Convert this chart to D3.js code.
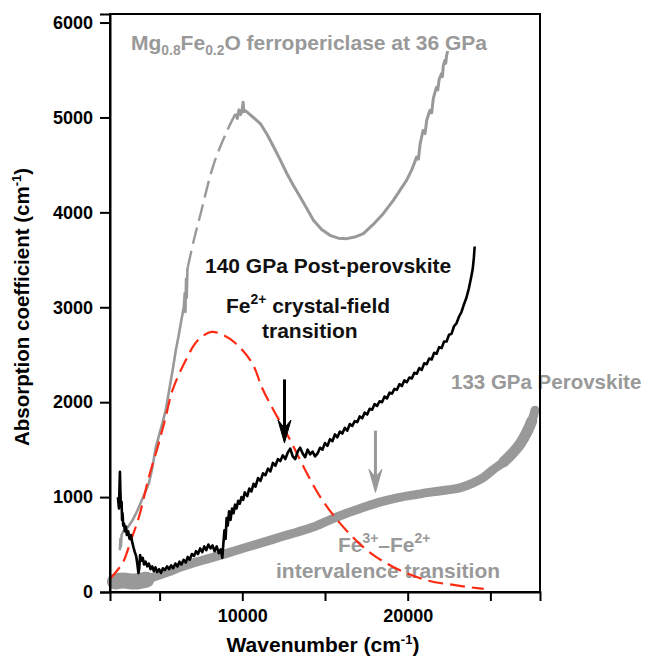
<!DOCTYPE html>
<html>
<head>
<meta charset="utf-8">
<script src="https://cdn.jsdelivr.net/npm/d3@7/dist/d3.min.js"></script>
<style>
  html, body { margin: 0; padding: 0; background: #fff; }
  svg { display: block; font-family: "Liberation Sans", Arial, Helvetica, sans-serif; font-weight: bold; }
</style>
</head>
<body>
<svg id="chart" width="649" height="662"></svg>
<script>
// ---------------- data ----------------
const xTicks = [5000, 10000, 15000, 20000, 25000];
const xTickLabels = ["", "10000", "", "20000", ""];
const yTicks = [0, 1000, 2000, 3000, 4000, 5000, 6000];
const yTickLabels = ["0", "1000", "2000", "3000", "4000", "5000", "6000"];

// Mg0.8Fe0.2O ferropericlase at 36 GPa (grey): measured low part, dashed gap, measured high part
const fpLow = [[2600,440],[2630,560],[2660,480],[2700,600],[2800,640],[2960,660],[3150,700],[3370,758],[3550,820],[3750,895],[4050,1020],[4350,1147],[4550,1300],[4770,1526],[4950,1640],[5170,1780],[5370,1916],[5600,2150],[5800,2350],[5980,2547],[6150,2700],[6300,2850],[6460,3000],[6520,3150],[6560,2950],[6600,3300],[6640,3100],[6680,3390],[6700,3420]];
const fpGap = [[6700,3420],[7060,3700],[7480,3986],[8280,4512],[9090,4863],[9590,5040]];
const fpHigh = [[9590,5040],[9700,4990],[9800,5080],[9900,5030],[10000,5090],[10050,5161],[10090,5060],[10200,5070],[10400,5040],[10600,5010],[10800,4980],[11100,4933],[11500,4820],[11900,4688],[12300,4550],[12700,4407],[13100,4280],[13500,4161],[13900,4040],[14300,3916],[14800,3820],[15300,3758],[15800,3728],[16320,3723],[16800,3740],[17320,3776],[17900,3870],[18520,3986],[19130,4126],[19530,4232],[19930,4337],[20250,4450],[20540,4582],[20650,4560],[20750,4720],[20930,4863],[21050,4830],[21150,4970],[21340,5074],[21450,5050],[21550,5200],[21740,5319],[21820,5290],[21900,5400],[22040,5460],[22100,5430],[22150,5540],[22240,5600],[22300,5570],[22350,5650],[22420,5700]];

// Fe2+ crystal-field transition band (red dashed)
const cfBand = [[2000,140],[2760,305],[3270,547],[3750,790],[4350,1210],[4950,1568],[5370,1845],[5780,2126],[6580,2442],[7300,2650],[8125,2740],[8800,2710],[9590,2621],[10600,2410],[11200,2150],[11890,1916],[12900,1600],[13500,1389],[14710,1003],[15900,726],[17520,442],[19100,267],[21100,126],[22950,70],[24600,32]];

// 140 GPa post-perovskite (black)
const postPv = [[2480,1000],[2540,880],[2600,1266],[2630,1050],[2660,900],[2700,950],[2730,760],[2760,830],[2800,700],[2850,720],[2900,640],[2960,690],[3020,600],[3100,640],[3180,560],[3260,600],[3350,520],[3420,470],[3500,420],[3580,380],[3650,300],[3720,200],[3770,250],[3820,390],[3900,330],[3980,360],[4060,290],[4150,320],[4250,270],[4350,300],[4450,240],[4550,270],[4650,220],[4750,260],[4850,210],[4970,240],[5080,200],[5200,250],[5320,230],[5450,270],[5580,240],[5700,280],[5820,250],[5950,300],[6080,270],[6200,320],[6320,290],[6450,340],[6580,310],[6700,370],[6820,340],[6950,400],[7080,380],[7200,430],[7320,400],[7450,460],[7580,420],[7700,480],[7820,440],[7950,500],[8080,460],[8200,490],[8320,430],[8450,480],[8580,410],[8700,450],[8790,360],[8850,500],[8920,650],[8990,560],[9050,780],[9120,700],[9200,850],[9290,760],[9380,880],[9470,830],[9560,920],[9650,880],[9750,960],[9850,930],[9950,1000],[10050,970],[10150,1050],[10300,1010],[10420,1090],[10550,1060],[10680,1140],[10800,1110],[10950,1200],[11100,1170],[11250,1250],[11400,1230],[11550,1300],[11700,1270],[11850,1360],[12000,1330],[12150,1400],[12300,1380],[12450,1440],[12600,1400],[12750,1470],[12900,1510],[13050,1430],[13200,1400],[13350,1480],[13500,1520],[13650,1460],[13800,1420],[13950,1500],[14100,1450],[14250,1480],[14400,1430],[14550,1460],[14700,1520],[14850,1500],[15000,1570],[15150,1540],[15300,1610],[15450,1590],[15600,1660],[15750,1630],[15900,1690],[16050,1670],[16200,1730],[16350,1700],[16500,1770],[16650,1750],[16800,1800],[16950,1790],[17100,1850],[17250,1830],[17400,1890],[17550,1870],[17700,1930],[17850,1920],[18000,1980],[18150,1960],[18300,2010],[18450,2000],[18600,2060],[18750,2040],[18900,2100],[19050,2090],[19200,2140],[19350,2130],[19500,2190],[19650,2170],[19800,2230],[19950,2210],[20100,2260],[20250,2250],[20400,2310],[20550,2300],[20700,2360],[20850,2340],[21000,2410],[21150,2400],[21300,2460],[21450,2450],[21600,2520],[21750,2510],[21900,2580],[22050,2570],[22200,2640],[22350,2640],[22500,2710],[22650,2720],[22800,2800],[22950,2830],[23100,2900],[23250,2950],[23400,3030],[23550,3100],[23700,3200],[23820,3300],[23930,3400],[24000,3520],[24050,3640]];

// 133 GPa perovskite (thick grey band)
const pv = [[2300,100],[2700,90],[3500,100],[4500,150],[5500,210],[6280,263],[7300,320],[8270,368],[9300,420],[10300,474],[11300,525],[12300,579],[13300,630],[14290,684],[15300,760],[16340,832],[17300,890],[18300,947],[19300,990],[20310,1021],[21300,1050],[22360,1074],[23200,1100],[23930,1147],[24600,1210],[25130,1284],[25800,1370],[26340,1463],[26800,1560],[27180,1674],[27500,1800],[27700,1916]];
const pvLowBlob = [[2300,110],[2800,120],[3500,110],[4200,130]];
const pvHighScatter = [[25800,1370],[26340,1463],[26800,1560],[27180,1674],[27500,1800]];

// arrows: [wavenumber, from value, to value]
const arrowCF = [12550, 2240, 1570];
const arrowIV = [18050, 1700, 1050];

// ---------------- drawing ----------------
const svg = d3.select("#chart");
const L = 110, R = 540, T = 14, B = 592;
const x = d3.scaleLinear().domain([2000, 28000]).range([L, R]);
const y = d3.scaleLinear().domain([0, 6090]).range([B, T]);

const grey = "#999999";
const line = d3.line().x(d => x(d[0])).y(d => y(d[1]));
const smooth = d3.line().x(d => x(d[0])).y(d => y(d[1])).curve(d3.curveCatmullRom);

// annotations (drawn under the curves)
function ann(xp, yp, parts, color, size) {
  const t = svg.append("text").attr("x", xp).attr("y", yp).attr("fill", color).style("font-size", size + "px");
  let shift = 0;
  parts.forEach(p => {
    const s = t.append("tspan").text(p[0]);
    const target = p[1] === "sub" ? 5 : p[1] === "sup" ? -9 : 0;
    if (target !== shift) s.attr("dy", target - shift);
    if (p[1]) s.style("font-size", (size * 0.66) + "px");
    shift = target;
  });
  return t;
}
ann(131, 50, [["Mg"], ["0.8", "sub"], ["Fe"], ["0.2", "sub"], ["O ferropericlase at 36 GPa"]], grey, 21);
ann(205, 273, [["140 GPa Post-perovskite"]], "#111", 21);
ann(226, 313, [["Fe"], ["2+", "sup"], [" crystal-field"]], "#111", 21);
ann(262, 338, [["transition"]], "#111", 21);
ann(451, 389, [["133 GPa Perovskite"]], grey, 20.5);
ann(338, 552, [["Fe"], ["3+", "sup"], ["\u2013Fe"], ["2+", "sup"]], grey, 21);
ann(276, 578, [["intervalence transition"]], grey, 21);

const plot = svg.append("g");

// perovskite band
plot.append("path").datum(pvLowBlob).attr("d", smooth)
  .attr("fill", "none").attr("stroke", grey).attr("stroke-width", 16).attr("stroke-linecap", "round");
plot.append("path").datum(pv).attr("d", smooth)
  .attr("fill", "none").attr("stroke", grey).attr("stroke-width", 9).attr("stroke-linecap", "round").attr("stroke-linejoin", "round");
plot.append("path").datum(pvHighScatter).attr("d", smooth)
  .attr("fill", "none").attr("stroke", grey).attr("stroke-width", 11).attr("stroke-linecap", "round");

// ferropericlase
plot.append("path").datum(fpLow).attr("d", line)
  .attr("fill", "none").attr("stroke", grey).attr("stroke-width", 2.6).attr("stroke-linejoin", "round");
plot.append("path").datum(fpGap).attr("d", smooth)
  .attr("fill", "none").attr("stroke", grey).attr("stroke-width", 2.4).attr("stroke-dasharray", "17,7");
plot.append("path").datum(fpHigh).attr("d", line)
  .attr("fill", "none").attr("stroke", grey).attr("stroke-width", 3).attr("stroke-linejoin", "round");

// crystal-field band
plot.append("path").datum(cfBand).attr("d", smooth)
  .attr("fill", "none").attr("stroke", "#ff2a12").attr("stroke-width", 2.2).attr("stroke-dasharray", "15,7");

// post-perovskite
plot.append("path").datum(postPv).attr("d", line)
  .attr("fill", "none").attr("stroke", "#000").attr("stroke-width", 2.6).attr("stroke-linejoin", "round");

// arrows
function arrow(a, color) {
  const ax = x(a[0]), y0 = y(a[1]), y1 = y(a[2]);
  plot.append("line").attr("x1", ax).attr("x2", ax).attr("y1", y0).attr("y2", y1 - 12)
    .attr("stroke", color).attr("stroke-width", 3);
  plot.append("path")
    .attr("d", `M${ax},${y1} L${ax - 6.5},${y1 - 23} L${ax},${y1 - 15} L${ax + 6.5},${y1 - 23} Z`)
    .attr("fill", color).attr("stroke", color).attr("stroke-width", 1).attr("stroke-linejoin", "round");
}
arrow(arrowCF, "#000");
arrow(arrowIV, grey);

// frame
svg.append("rect").attr("x", L).attr("y", T).attr("width", R - L).attr("height", B - T)
  .attr("fill", "none").attr("stroke", "#000").attr("stroke-width", 2);

// axes
const xAxis = d3.axisBottom(x).tickValues(xTicks).tickSize(9).tickPadding(8)
  .tickFormat((d, i) => xTickLabels[i]);
const gx = svg.append("g").attr("transform", `translate(0,${B})`).call(xAxis);
const yAxis = d3.axisLeft(y).tickValues(yTicks).tickSize(10).tickPadding(7)
  .tickFormat((d, i) => yTickLabels[i]);
const gy = svg.append("g").attr("transform", `translate(${L},0)`).call(yAxis);
[gx, gy].forEach(g => {
  g.select(".domain").attr("stroke", "#000").attr("stroke-width", 2);
  g.selectAll(".tick line").attr("stroke", "#000").attr("stroke-width", 2);
  g.selectAll(".tick text").attr("fill", "#000").style("font-size", "18px").style("font-weight", "bold")
    .style("font-family", "'Liberation Sans', Arial, sans-serif");
});

// axis titles
const xt = svg.append("text").attr("x", (L + R) / 2 - 2).attr("y", 652).attr("text-anchor", "middle")
  .style("font-size", "21px").attr("fill", "#000");
xt.append("tspan").text("Wavenumber (cm");
xt.append("tspan").text("-1").style("font-size", "13px").attr("dy", -8);
xt.append("tspan").text(")").attr("dy", 8);

const yt = svg.append("text").attr("transform", `translate(29,${(T + B) / 2 + 4}) rotate(-90)`)
  .attr("text-anchor", "middle").style("font-size", "20.5px").attr("fill", "#000");
yt.append("tspan").text("Absorption coefficient (cm");
yt.append("tspan").text("-1").style("font-size", "13px").attr("dy", -8);
yt.append("tspan").text(")").attr("dy", 8);
</script>
</body>
</html>
